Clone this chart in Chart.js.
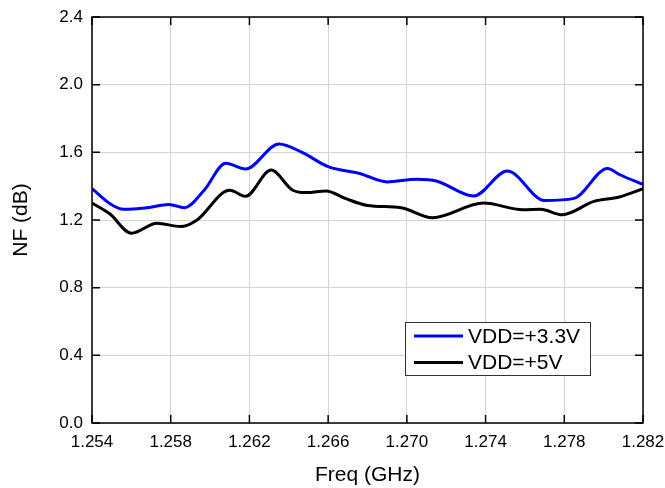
<!DOCTYPE html>
<html>
<head>
<meta charset="utf-8">
<script src="https://cdn.jsdelivr.net/npm/chart.js@4.4.0/dist/chart.umd.min.js"></script>
<style>
  html, body { margin: 0; padding: 0; background: #fff; }
  #wrap { width: 665px; height: 488px; }
</style>
</head>
<body>
<div id="wrap"><canvas id="nfChart" width="665" height="488"></canvas></div>
<script>
// values
const freqBlue = [1.2540, 1.2550, 1.2556, 1.2568, 1.2579, 1.2587, 1.2597, 1.2608, 1.2618, 1.2635,
  1.2647, 1.2660, 1.2676, 1.2690, 1.2705, 1.2715, 1.2734, 1.2751, 1.2770, 1.2785, 1.2802, 1.2808, 1.2820];
const nfBlue = [1.386, 1.290, 1.263, 1.273, 1.292, 1.273, 1.376, 1.535, 1.501, 1.650,
  1.598, 1.515, 1.475, 1.425, 1.441, 1.431, 1.342, 1.489, 1.316, 1.328, 1.505, 1.469, 1.410];

const freqBlack = [1.2540, 1.2549, 1.2560, 1.2573, 1.2585, 1.2593, 1.2610, 1.2618, 1.2631, 1.2642,
  1.2649, 1.2659, 1.2669, 1.2680, 1.2697, 1.2713, 1.2739, 1.2759, 1.2768, 1.2779, 1.2795, 1.2808, 1.2820];
const nfBlack = [1.300, 1.237, 1.122, 1.181, 1.161, 1.197, 1.376, 1.340, 1.495, 1.376,
  1.362, 1.372, 1.326, 1.286, 1.273, 1.213, 1.300, 1.261, 1.263, 1.231, 1.310, 1.336, 1.385];

const seriesLabels = ['VDD=+3.3V', 'VDD=+5V'];
const xTicks = [1.254, 1.258, 1.262, 1.266, 1.270, 1.274, 1.278, 1.282];
const yTicks = [0.0, 0.4, 0.8, 1.2, 1.6, 2.0, 2.4];

const FONT = '"Liberation Sans", Arial, sans-serif';

function toPoints(xs, ys) {
  return xs.map((x, i) => ({ x: x, y: ys[i] }));
}

// frame, inward ticks and the boxed legend
const framePlugin = {
  id: 'frame',
  afterDraw(chart) {
    const ctx = chart.ctx;
    const a = chart.chartArea;
    const xs = chart.scales.x;
    const ys = chart.scales.y;
    ctx.save();
    ctx.strokeStyle = '#000';
    ctx.lineWidth = 1.5;
    ctx.strokeRect(a.left, a.top, a.right - a.left, a.bottom - a.top);
    ctx.beginPath();
    xTicks.forEach(v => {
      const px = xs.getPixelForValue(v);
      ctx.moveTo(px, a.bottom); ctx.lineTo(px, a.bottom - 8);
      ctx.moveTo(px, a.top); ctx.lineTo(px, a.top + 8);
    });
    yTicks.forEach(v => {
      const py = ys.getPixelForValue(v);
      ctx.moveTo(a.left, py); ctx.lineTo(a.left + 8, py);
      ctx.moveTo(a.right, py); ctx.lineTo(a.right - 8, py);
    });
    ctx.stroke();

    // legend
    const bx = 405, by = 322, bw = 185, bh = 53;
    ctx.fillStyle = '#fff';
    ctx.fillRect(bx, by, bw, bh);
    ctx.strokeStyle = '#333';
    ctx.lineWidth = 1;
    ctx.strokeRect(bx + 0.5, by + 0.5, bw, bh);
    ctx.font = '21px ' + FONT;
    ctx.textBaseline = 'middle';
    chart.data.datasets.forEach((ds, i) => {
      const ly = by + 14 + i * 26.5;
      ctx.strokeStyle = ds.borderColor;
      ctx.lineWidth = 3;
      ctx.beginPath();
      ctx.moveTo(414, ly); ctx.lineTo(463, ly);
      ctx.stroke();
      ctx.fillStyle = '#000';
      ctx.fillText(ds.label, 468, ly + 1);
    });
    ctx.restore();
  }
};

const ctx = document.getElementById('nfChart').getContext('2d');
const nfChart = new Chart(ctx, {
  type: 'line',
  data: {
    datasets: [{
      label: seriesLabels[0],
      data: toPoints(freqBlue, nfBlue),
      borderColor: '#0000ff',
      borderWidth: 3,
      pointRadius: 0,
      cubicInterpolationMode: 'monotone',
      fill: false
    }, {
      label: seriesLabels[1],
      data: toPoints(freqBlack, nfBlack),
      borderColor: '#000000',
      borderWidth: 3,
      pointRadius: 0,
      cubicInterpolationMode: 'monotone',
      fill: false
    }]
  },
  options: {
    responsive: false,
    animation: false,
    layout: { padding: { top: 17, right: 22, left: 0, bottom: 0 } },
    plugins: {
      legend: { display: false },
      tooltip: { enabled: false }
    },
    scales: {
      x: {
        type: 'linear',
        min: 1.254,
        max: 1.282,
        afterBuildTicks: s => { s.ticks = xTicks.map(v => ({ value: v })); },
        afterFit: s => { s.height = 65; s.paddingLeft = 0; s.paddingRight = 0; },
        grid: { color: '#d4d4d4', lineWidth: 1, drawTicks: false },
        border: { display: false },
        ticks: {
          padding: 9,
          color: '#000',
          font: { family: FONT, size: 17 },
          maxRotation: 0,
          callback: v => v.toFixed(3)
        },
        title: {
          display: true,
          text: 'Freq (GHz)',
          color: '#000',
          font: { family: FONT, size: 21 },
          padding: { top: 10, bottom: 0 }
        }
      },
      y: {
        min: 0,
        max: 2.4,
        afterBuildTicks: s => { s.ticks = yTicks.map(v => ({ value: v })); },
        afterFit: s => { s.width = 92; s.paddingTop = 0; s.paddingBottom = 0; },
        grid: { color: '#d4d4d4', lineWidth: 1, drawTicks: false },
        border: { display: false },
        ticks: {
          padding: 9,
          color: '#000',
          font: { family: FONT, size: 17 },
          callback: v => v.toFixed(1)
        },
        title: {
          display: true,
          text: 'NF (dB)',
          color: '#000',
          font: { family: FONT, size: 21 },
          padding: { top: 9, bottom: 4 }
        }
      }
    }
  },
  plugins: [framePlugin]
});
</script>
</body>
</html>
